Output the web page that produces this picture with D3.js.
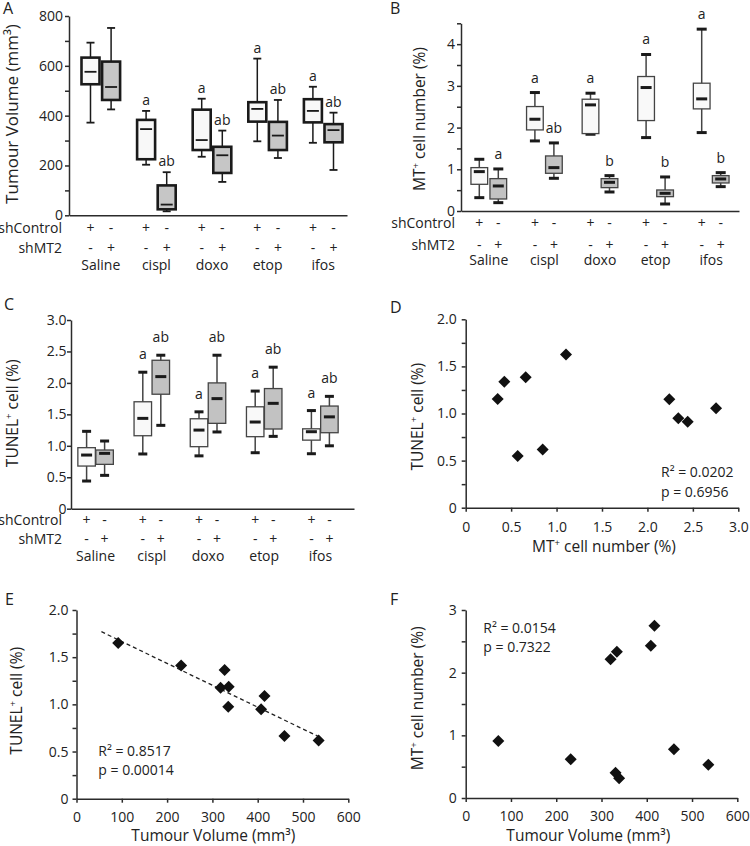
<!DOCTYPE html>
<html><head><meta charset="utf-8">
<script src="https://cdn.jsdelivr.net/npm/d3@7"></script>
<style>
html,body{margin:0;padding:0;background:#fff;}
svg{display:block;font-family:"Open Sans",sans-serif;}
.axis path,.axis line{stroke:#2b2b2b;stroke-width:1.5;}
.axis text{font-family:"Open Sans",sans-serif;font-size:14px;fill:#222;}
</style></head>
<body>
<svg id="chart" width="750" height="846"></svg>
<script>
// ---------------- DATA ----------------
const groups = ["Saline", "cispl", "doxo", "etop", "ifos"];
const conditions = ["shControl", "shMT2"];
// box stats: [lower whisker, Q1, median, Q3, upper whisker]
const volumeCtrl = [[372,526,576,633,693],[203,225,346,383,419],[235,262,302,424,468],[297,376,427,454,629],[291,373,419,466,516]];
const volumeMT2  = [[425,463,515,617,752],[16,24,43,120,173],[134,170,241,275,340],[230,262,320,375,463],[182,293,342,366,412]];
const volumeLettersCtrl = ["", "a", "a", "a", "a"];
const volumeLettersMT2  = ["", "ab", "ab", "ab", "ab"];

const mtCtrl = [[0.32,0.64,0.944,1.04,1.24],[1.68,1.944,2.2,2.504,2.84],[1.84,1.856,2.544,2.68,2.824],[1.76,2.168,2.96,3.224,3.752],[1.88,2.448,2.688,3.064,4.36]];
const mtMT2  = [[0.2,0.288,0.60,0.776,1.008],[0.784,0.904,1.04,1.32,1.632],[0.456,0.56,0.688,0.776,0.848],[0.168,0.344,0.424,0.504,0.816],[0.584,0.672,0.768,0.848,0.92]];
const mtLettersCtrl = ["", "a", "a", "a", "a"];
const mtLettersMT2  = ["a", "ab", "b", "b", "b"];

const tunelCtrl = [[0.44,0.678,0.853,0.97,1.23],[0.87,1.16,1.436,1.70,2.17],[0.84,0.986,1.25,1.43,1.54],[0.89,1.145,1.378,1.62,1.87],[0.874,1.09,1.224,1.27,1.56]];
const tunelMT2  = [[0.53,0.705,0.88,0.933,1.076],[1.325,1.82,2.10,2.36,2.44],[1.22,1.357,1.75,2.00,2.44],[1.15,1.267,1.675,1.91,2.25],[1.0,1.208,1.46,1.632,1.786]];
const tunelLettersCtrl = ["", "a", "a", "a", "a"];
const tunelLettersMT2  = ["", "ab", "ab", "ab", "ab"];

// scatter D: MT+ vs TUNEL+
const scatterD_mt    = [0.352,0.425,0.572,0.660,0.847,1.104,2.241,2.34,2.443,2.755];
const scatterD_tunel = [1.154,1.338,0.549,1.384,0.619,1.625,1.150,0.949,0.913,1.055];
// scatter E: volume vs TUNEL+
const scatterE_vol   = [92,231,327,318,336,335,415,407.5,459,534.5];
const scatterE_tunel = [1.65,1.413,1.364,1.177,1.187,0.975,1.088,0.947,0.664,0.618];
const trendE_vol     = [55, 535];
const trendE_tunel   = [1.77, 0.657];
// scatter F: volume vs MT+
const scatterF_vol = [72,232,331,339,320,334,409,417,460,536];
const scatterF_mt  = [0.91,0.617,0.404,0.314,2.213,2.335,2.43,2.75,0.777,0.532];

const statsD = ["R\u00B2 = 0.0202", "p = 0.6956"];
const statsE = ["R\u00B2 = 0.8517", "p = 0.00014"];
const statsF = ["R\u00B2 = 0.0154", "p = 0.7322"];

// tick values
const ticksA = [0,200,400,600,800], minorA = [100,300,500,700];
const ticksB = [0,1,2,3,4], minorB = [0.5,1.5,2.5,3.5,4.5];
const ticksC = [0,0.5,1,1.5,2,2.5,3];
const ticksD_x = [0,0.5,1,1.5,2,2.5,3], ticksD_y = [0,0.5,1,1.5,2], minorD_y = [0.25,0.75,1.25,1.75];
const ticksE_x = [0,100,200,300,400,500,600], ticksE_y = [0,0.5,1,1.5,2], minorE_y = [0.25,0.75,1.25,1.75];
const ticksF_x = [0,100,200,300,400,500,600], ticksF_y = [0,1,2,3], minorF_y = [0.5,1.5,2.5];

// ---------------- DRAW ----------------
const svg = d3.select("#chart");
const ink = "#222";
const fmt1 = d => d === 0 ? "0" : d3.format(".1f")(d);
const fmtInt = d3.format("d");

function yTitle(x, y, parts, fs) {
  const t = svg.append("text").attr("transform", `translate(${x},${y}) rotate(-90)`)
    .attr("text-anchor", "middle").attr("dy", "0.35em").attr("font-size", fs).attr("fill", ink);
  addParts(t, parts, fs);
}
function xTitle(x, y, parts, fs) {
  const t = svg.append("text").attr("x", x).attr("y", y)
    .attr("text-anchor", "middle").attr("font-size", fs).attr("fill", ink);
  addParts(t, parts, fs);
}
function addParts(t, parts, fs) {
  let shift = 0;
  parts.forEach(p => {
    if (p.sup) {
      t.append("tspan").attr("font-size", fs * 0.62).attr("dy", -fs * 0.38).text(p.sup);
      shift = fs * 0.38;
    } else {
      t.append("tspan").attr("dy", shift).text(p.t);
      shift = 0;
    }
  });
}
function panelLetter(x, y, s) {
  svg.append("text").attr("x", x).attr("y", y).attr("font-size", 16).attr("fill", ink).text(s);
}

function boxPanel(cfg) {
  const g = svg.append("g");
  const y = d3.scaleLinear().domain(cfg.yDomain).range(cfg.yRange);
  const x = d3.scaleBand().domain(groups).range(cfg.band);
  if (cfg.minor) {
    g.append("g").attr("class", "axis").attr("transform", `translate(${cfg.ax},0)`)
      .call(d3.axisLeft(y).tickValues(cfg.minor).tickSize(4).tickFormat(""))
      .select(".domain").remove();
  }
  g.append("g").attr("class", "axis").attr("transform", `translate(${cfg.ax},0)`)
    .call(d3.axisLeft(y).tickValues(cfg.major).tickFormat(cfg.fmt).tickSize(4).tickSizeOuter(0).tickPadding(cfg.pad));
  const xl = d3.scaleLinear().domain([0, 1]).range([cfg.ax, cfg.axEnd]);
  g.append("g").attr("class", "axis").attr("transform", `translate(0,${y(0)})`)
    .call(d3.axisBottom(xl).tickValues([]).tickSizeOuter(0));

  const sets = [cfg.ctrl, cfg.mt2];
  const lets = [cfg.letCtrl, cfg.letMT2];
  const fills = [cfg.fillCtrl, cfg.fillMT2];
  groups.forEach((grp, i) => {
    const gc = x(grp) + x.bandwidth() / 2;
    [0, 1].forEach(c => {
      const s = sets[c][i];
      const cx = gc + (c === 0 ? -cfg.off : cfg.off);
      g.append("line").attr("x1", cx).attr("x2", cx).attr("y1", y(s[0])).attr("y2", y(s[4]))
        .attr("stroke", cfg.stroke).attr("stroke-width", 1.5);
      [s[0], s[4]].forEach(v => {
        g.append("line").attr("x1", cx - cfg.capW / 2).attr("x2", cx + cfg.capW / 2)
          .attr("y1", y(v)).attr("y2", y(v)).attr("stroke", cfg.capColor).attr("stroke-width", cfg.capSW);
      });
      g.append("rect").attr("x", cx - cfg.boxW / 2).attr("width", cfg.boxW)
        .attr("y", y(s[3])).attr("height", y(s[1]) - y(s[3]))
        .attr("fill", fills[c]).attr("stroke", cfg.stroke).attr("stroke-width", cfg.boxSW);
      g.append("line").attr("x1", cx - cfg.medW / 2).attr("x2", cx + cfg.medW / 2)
        .attr("y1", y(s[2])).attr("y2", y(s[2])).attr("stroke", cfg.capColor).attr("stroke-width", cfg.medSW);
      if (lets[c][i]) {
        g.append("text").attr("x", cx).attr("y", y(s[4]) - cfg.labOff).attr("text-anchor", "middle")
          .attr("font-size", 14).attr("fill", ink).text(lets[c][i]);
      }
      g.append("text").attr("x", cx).attr("y", cfg.rows[0]).attr("text-anchor", "middle")
        .attr("font-size", 14).attr("fill", ink).text(c === 0 ? "+" : "-");
      g.append("text").attr("x", cx).attr("y", cfg.rows[1]).attr("text-anchor", "middle")
        .attr("font-size", 14).attr("fill", ink).text(c === 0 ? "-" : "+");
    });
    g.append("text").attr("x", gc).attr("y", cfg.rows[2]).attr("text-anchor", "middle")
      .attr("font-size", 14).attr("fill", ink).text(grp);
  });
  conditions.forEach((cn, k) => {
    g.append("text").attr("x", cfg.labX).attr("y", cfg.rows[k]).attr("text-anchor", "end")
      .attr("font-size", 14).attr("fill", ink).text(cn);
  });
}

function scatterPanel(cfg) {
  const g = svg.append("g");
  const x = d3.scaleLinear().domain(cfg.xDomain).range(cfg.xRange);
  const y = d3.scaleLinear().domain(cfg.yDomain).range(cfg.yRange);
  if (cfg.yMinor) {
    g.append("g").attr("class", "axis").attr("transform", `translate(${x(0)},0)`)
      .call(d3.axisLeft(y).tickValues(cfg.yMinor).tickSize(4).tickFormat(""))
      .select(".domain").remove();
  }
  g.append("g").attr("class", "axis").attr("transform", `translate(${x(0)},0)`)
    .call(d3.axisLeft(y).tickValues(cfg.yTicks).tickFormat(cfg.yFmt).tickSize(4).tickSizeOuter(0).tickPadding(cfg.yPad));
  g.append("g").attr("class", "axis").attr("transform", `translate(0,${y(0)})`)
    .call(d3.axisBottom(x).tickValues(cfg.xTicks).tickFormat(cfg.xFmt).tickSize(4).tickSizeOuter(0).tickPadding(cfg.xPad));
  if (cfg.trend) {
    g.append("path").datum(d3.zip(cfg.trend[0], cfg.trend[1]))
      .attr("d", d3.line().x(d => x(d[0])).y(d => y(d[1])))
      .attr("fill", "none").attr("stroke", "#222").attr("stroke-width", 1.3).attr("stroke-dasharray", "4,3");
  }
  const sym = d3.symbol().type(d3.symbolSquare).size(72);
  g.selectAll("path.pt").data(d3.zip(cfg.xs, cfg.ys)).join("path").attr("class", "pt")
    .attr("d", sym).attr("fill", "#111")
    .attr("transform", d => `translate(${x(d[0])},${y(d[1])}) rotate(45)`);
  cfg.stats.forEach((s, k) => {
    g.append("text").attr("x", cfg.statX).attr("y", cfg.statY + k * 19.3)
      .attr("font-size", 14).attr("fill", ink).text(s);
  });
}

// Panel A
boxPanel({
  yDomain: [0, 800], yRange: [215.3, 16], ax: 69, axEnd: 347, band: [73, 351],
  major: ticksA, minor: minorA, fmt: fmtInt, pad: 2,
  ctrl: volumeCtrl, mt2: volumeMT2, letCtrl: volumeLettersCtrl, letMT2: volumeLettersMT2,
  off: 10.3, boxW: 18, boxSW: 2.6, stroke: "#1a1a1a", capColor: "#1a1a1a",
  capW: 8, capSW: 1.8, medW: 12, medSW: 1.8, labOff: 6,
  fillCtrl: "#f8f8f8", fillMT2: "#c6c6c6",
  rows: [233.3, 253.3, 270], labX: 62
});
// Panel B
boxPanel({
  yDomain: [0, 4.5], yRange: [211, 23.3], ax: 461, axEnd: 739, band: [461, 739],
  major: ticksB, minor: minorB, fmt: fmtInt, pad: 2,
  ctrl: mtCtrl, mt2: mtMT2, letCtrl: mtLettersCtrl, letMT2: mtLettersMT2,
  off: 9.5, boxW: 16.7, boxSW: 1.3, stroke: "#444", capColor: "#1a1a1a",
  capW: 10, capSW: 3, medW: 11, medSW: 3, labOff: 10,
  fillCtrl: "#f9f9f9", fillMT2: "#c2c2c2",
  rows: [227.7, 250, 265], labX: 455
});
// Panel C
boxPanel({
  yDomain: [0, 3], yRange: [508.7, 320], ax: 71, axEnd: 354, band: [67.5, 348.5],
  major: ticksC, minor: null, fmt: fmt1, pad: 0.5,
  ctrl: tunelCtrl, mt2: tunelMT2, letCtrl: tunelLettersCtrl, letMT2: tunelLettersMT2,
  off: 9, boxW: 17.5, boxSW: 1.3, stroke: "#444", capColor: "#1a1a1a",
  capW: 9, capSW: 3, medW: 11, medSW: 3, labOff: 13,
  fillCtrl: "#f9f9f9", fillMT2: "#c2c2c2",
  rows: [525, 544.3, 561], labX: 62
});
// Panel D
scatterPanel({
  xDomain: [0, 3], xRange: [465.7, 738.3], yDomain: [0, 2], yRange: [507.7, 319.3],
  xTicks: ticksD_x, xFmt: fmt1, xPad: 10, yTicks: ticksD_y, yMinor: minorD_y, yFmt: fmt1, yPad: 5,
  xs: scatterD_mt, ys: scatterD_tunel, stats: statsD, statX: 661, statY: 477.3
});
// Panel E
scatterPanel({
  xDomain: [0, 600], xRange: [76.5, 348.3], yDomain: [0, 2], yRange: [798.7, 610],
  xTicks: ticksE_x, xFmt: fmtInt, xPad: 9, yTicks: ticksE_y, yMinor: minorE_y, yFmt: fmt1, yPad: 4,
  xs: scatterE_vol, ys: scatterE_tunel, trend: [trendE_vol, trendE_tunel],
  stats: statsE, statX: 98.3, statY: 755.7
});
// Panel F
scatterPanel({
  xDomain: [0, 600], xRange: [465.7, 737.3], yDomain: [0, 3], yRange: [798, 610],
  xTicks: ticksF_x, xFmt: fmtInt, xPad: 9.5, yTicks: ticksF_y, yMinor: minorF_y, yFmt: fmtInt, yPad: 5,
  xs: scatterF_vol, ys: scatterF_mt, stats: statsF, statX: 483.3, statY: 632.7
});

// titles
yTitle(18.3, 114, [{t: "Tumour Volume (mm\u00B3)"}], 17);
yTitle(425, 119, [{t: "MT"}, {sup: "+"}, {t: " cell number (%)"}], 15.5);
yTitle(18.3, 413.3, [{t: "TUNEL"}, {sup: "+"}, {t: " cell (%)"}], 15.5);
yTitle(423.3, 416.7, [{t: "TUNEL"}, {sup: "+"}, {t: " cell (%)"}], 15.5);
xTitle(604, 551.5, [{t: "MT"}, {sup: "+"}, {t: " cell number (%)"}], 15.5);
yTitle(21.7, 700.8, [{t: "TUNEL"}, {sup: "+"}, {t: " cell (%)"}], 15.5);
xTitle(213.3, 841, [{t: "Tumour Volume (mm\u00B3)"}], 15.5);
yTitle(423.3, 698.3, [{t: "MT"}, {sup: "+"}, {t: " cell number (%)"}], 15.5);
xTitle(588.3, 841, [{t: "Tumour Volume (mm\u00B3)"}], 15.5);

panelLetter(3, 14, "A");
panelLetter(390, 14, "B");
panelLetter(4, 310, "C");
panelLetter(390, 313, "D");
panelLetter(5, 605, "E");
panelLetter(390, 605, "F");
</script>
</body></html>
